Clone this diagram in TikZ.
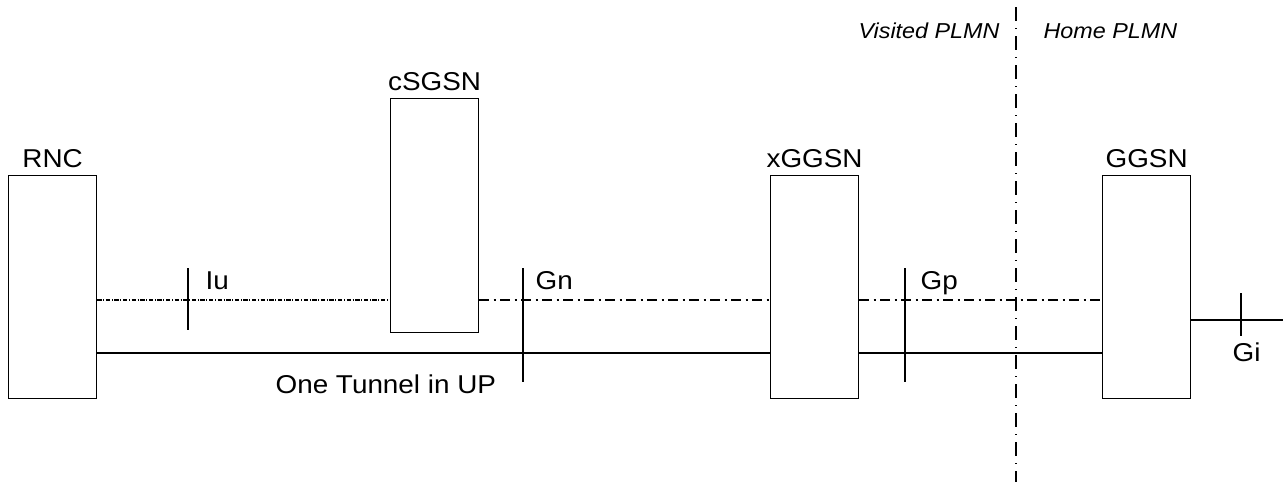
\documentclass[tikz,border=0pt]{standalone}
\usepackage{fontspec}
\setmainfont{Liberation Sans}[FakeStretch=1.08]
\begin{document}
\begin{tikzpicture}[x=0.5pt,y=-0.5pt,line width=0.6pt,
  nebox/.style={draw,minimum width=44pt,minimum height=111.5pt,inner sep=0pt,anchor=north west},
  lbl/.style={font=\fontsize{12.9}{14}\selectfont,inner sep=0pt},
  plmn/.style={font=\fontsize{10.8}{13}\selectfont\itshape,inner sep=0pt},
  iudash/.style={dash pattern=on 2.2pt off 0.8pt on 0.5pt off 0.8pt},
  gdash/.style={dash pattern=on 5pt off 2.2pt on 1pt off 2.3pt},
  borderdash/.style={dash pattern=on 7pt off 3.5pt on 0.6pt off 3.4pt}]
\useasboundingbox (0,0) rectangle (1283,482);
% boxes
\node[nebox] (rnc) at (8,175) {};
\node[nebox,minimum height=117pt] (csgsn) at (390,98) {};
\node[nebox] (xggsn) at (770,175) {};
\node[nebox] (ggsn) at (1102,175) {};
% box labels
\node[lbl,anchor=base] (rncl) at ([yshift=4pt]rnc.north) {RNC};
\node[lbl,anchor=base] (csgsnl) at ([yshift=4pt]csgsn.north) {cSGSN};
\node[lbl,anchor=base] (xggsnl) at ([yshift=4pt]xggsn.north) {xGGSN};
\node[lbl,anchor=base] (ggsnl) at ([yshift=4pt]ggsn.north) {GGSN};
% reference levels
\coordinate (cp) at (0,300);
\coordinate (up) at (0,353);
\coordinate (gi) at (0,320);
% control plane
\draw[iudash] (rnc.east |- cp) -- (csgsn.west |- cp);
\draw[gdash] (csgsn.east |- cp) -- (xggsn.west |- cp);
\draw[gdash] (xggsn.east |- cp) -- (ggsn.west |- cp);
% user plane
\draw (rnc.east |- up) -- (xggsn.west |- up);
\draw (xggsn.east |- up) -- (ggsn.west |- up);
% Gi
\coordinate (giend) at (1283,320);
\draw (ggsn.east |- gi) -- (giend);
% interface ticks
\coordinate (iut) at (188,268); \coordinate (iub) at (188,330);
\coordinate (gnt) at (523,268); \coordinate (gnb) at (523,382);
\coordinate (gpt) at (905,268); \coordinate (gpb) at (905,382);
\coordinate (git) at (1241,293); \coordinate (gib) at (1241,336);
\draw (iut) -- (iub);
\draw (gnt) -- (gnb);
\draw (gpt) -- (gpb);
\draw (git) -- (gib);
% interface labels
\node[lbl,anchor=base west] (iul) at (205,289) {Iu};
\node[lbl,anchor=base west] (gnl) at (535,289) {Gn};
\node[lbl,anchor=base west] (gpl) at (920,289) {Gp};
\node[lbl,anchor=base west] (gil) at (1232,361) {Gi};
\node[lbl,anchor=base west] (tun) at (275,393) {One Tunnel in UP};
% PLMN border
\coordinate (bt) at (1016,7);
\coordinate (bb) at (1016,482);
\draw[borderdash] (bt) -- (bb);
\node[plmn,anchor=base east] (vis) at (1000,39) {Visited PLMN};
\node[plmn,anchor=base west] (home) at (1043,39) {Home PLMN};
\end{tikzpicture}
\end{document}
